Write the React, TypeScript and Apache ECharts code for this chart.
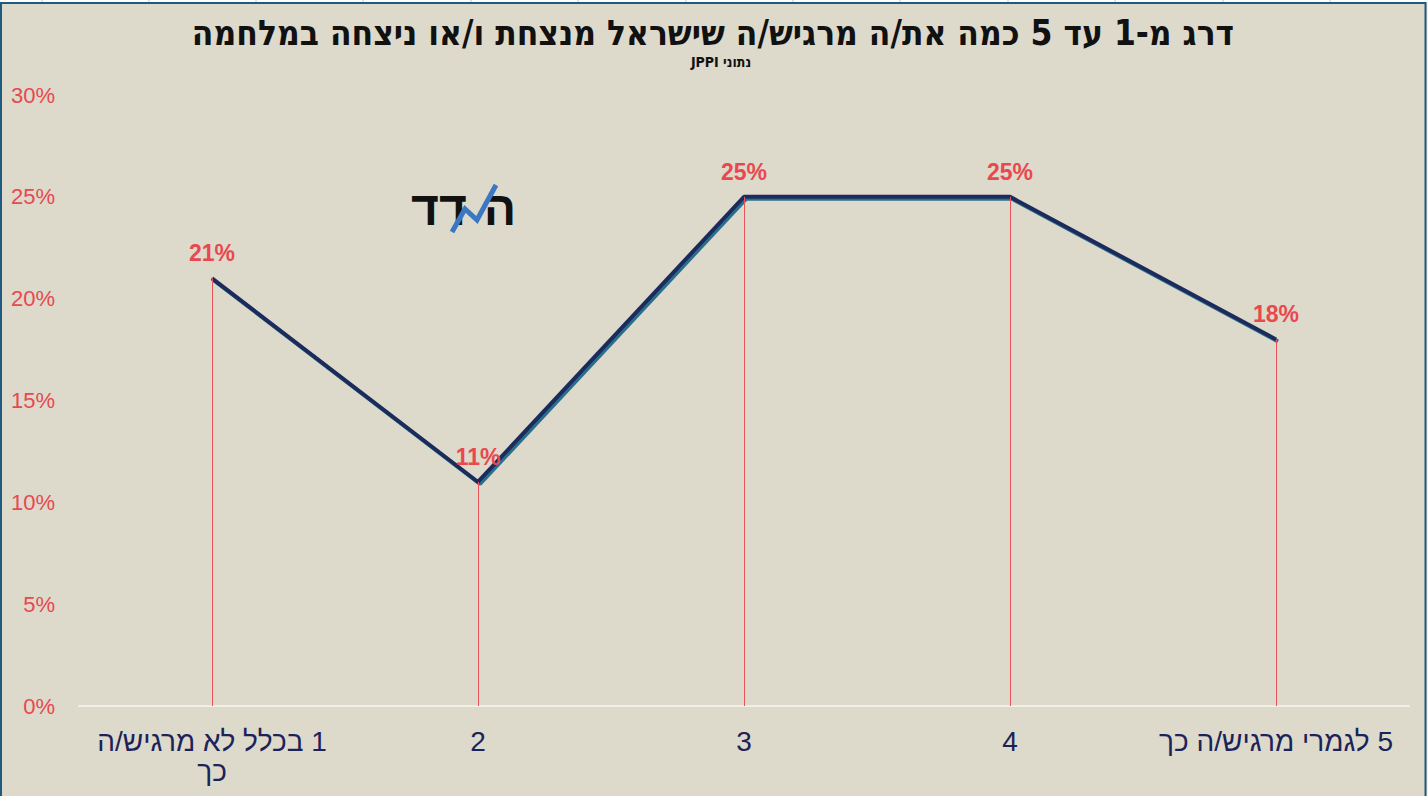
import React, { useEffect, useRef } from "react";
import * as echarts from "echarts";

const RLM = "\u200F";
const categories = [RLM + "1 בכלל לא מרגיש/ה\nכך", "2", "3", "4", RLM + "5 לגמרי מרגיש/ה כך"];
const values = [21, 11, 25, 25, 18];
const yTicks = { min: 0, max: 30, interval: 5 };
const titleText = "דרג מ-1 עד 5 כמה את/ה מרגיש/ה שישראל מנצחת ו/או ניצחה במלחמה";
const subtitleText = "\u202Bנתוני JPPI\u202C";
const sheetLines = [42, 149, 256, 363, 471, 578, 686, 793, 900, 1008, 1115, 1223, 1330];

export default function App() {
  const ref = useRef<HTMLDivElement>(null);
  useEffect(() => {
    document.body.style.margin = "0";
    const chart = echarts.init(ref.current!, null, { renderer: "svg" });
    const graphics: any[] = [
      { type: "rect", shape: { x: 0, y: 0, width: 1428, height: 3 }, style: { fill: "#ffffff" }, silent: true },
      ...sheetLines.map((x) => ({
        type: "line",
        shape: { x1: x, y1: 0, x2: x, y2: 3 },
        style: { stroke: "#c8c8c8", lineWidth: 1 },
        silent: true,
      })),
      { type: "rect", shape: { x: 1427, y: 0, width: 1, height: 796 }, style: { fill: "#f4f4f4" }, silent: true },
      {
        type: "polyline",
        shape: { points: [[1, 796], [1, 3], [1425.5, 3], [1425.5, 796]] },
        style: { stroke: "#1f5a80", lineWidth: 2, fill: "none" },
        silent: true,
      },
      {
        type: "text",
        x: 713,
        y: 33,
        style: {
          text: titleText,
          fill: "#111111",
          font: "bold 35px 'Liberation Sans Narrow', 'DejaVu Sans Condensed', 'Liberation Sans', sans-serif",
          align: "center",
          verticalAlign: "middle",
        },
      },
      {
        type: "text",
        x: 721,
        y: 62,
        style: {
          text: subtitleText,
          fill: "#111111",
          font: "bold 14px 'Liberation Sans Narrow', 'DejaVu Sans Condensed', sans-serif",
          align: "center",
          verticalAlign: "middle",
        },
      },
      {
        type: "text",
        x: 439,
        y: 208,
        style: {
          text: "דד",
          fill: "#111111",
          font: "bold 48px 'Liberation Sans', Arial, sans-serif",
          align: "center",
          verticalAlign: "middle",
        },
      },
      {
        type: "text",
        x: 500,
        y: 208,
        style: {
          text: "ה",
          fill: "#111111",
          font: "bold 48px 'Liberation Sans', Arial, sans-serif",
          align: "center",
          verticalAlign: "middle",
        },
      },
      {
        type: "polyline",
        shape: { points: [[452, 232], [465, 209], [477, 220], [496, 185]] },
        style: { stroke: "#3a78c4", lineWidth: 5, fill: "none", lineJoin: "miter" },
      },
    ];
    chart.setOption({
      animation: false,
      backgroundColor: "#ddd9cb",
      grid: { left: 79, right: 19, top: 95, bottom: 90, containLabel: false },
      graphic: graphics,
      xAxis: {
        type: "category",
        data: categories,
        boundaryGap: true,
        axisLine: { show: true, lineStyle: { color: "#f2efe8", width: 2 } },
        axisTick: { show: false },
        axisLabel: {
          color: "#1b2359",
          fontSize: 28,
          fontFamily: "'Liberation Sans', Arial, sans-serif",
          margin: 20,
          lineHeight: 30,
          interval: 0,
        },
        splitLine: { show: false },
      },
      yAxis: {
        type: "value",
        min: yTicks.min,
        max: yTicks.max,
        interval: yTicks.interval,
        axisLine: { show: false },
        axisTick: { show: false },
        splitLine: { show: false },
        axisLabel: {
          formatter: "{value}%",
          color: "#e8484e",
          fontSize: 22,
          fontFamily: "'Liberation Sans', Arial, sans-serif",
          margin: 24,
        },
      },
      series: [
        {
          type: "line",
          data: values,
          symbol: "circle",
          symbolSize: 1,
          showSymbol: true,
          itemStyle: { color: "#1b2a5c" },
          lineStyle: {
            color: "#1b2a5c",
            width: 4,
            shadowColor: "#2c6e8e",
            shadowOffsetX: 2,
            shadowOffsetY: 2,
            shadowBlur: 0,
          },
          label: {
            show: true,
            position: "top",
            distance: 13,
            formatter: "{c}%",
            color: "#e8484e",
            fontSize: 23,
            fontWeight: "bold",
            fontFamily: "'Liberation Sans', Arial, sans-serif",
          },
          markLine: {
            silent: true,
            symbol: "none",
            label: { show: false },
            lineStyle: { color: "#e8545a", width: 1, type: "solid" },
            data: values.map((v, i) => [
              { coord: [i, 0] },
              { coord: [i, v] },
            ]),
          },
          z: 3,
        },
      ],
    });
    return () => chart.dispose();
  }, []);
  return <div ref={ref} style={{ position: "absolute", left: 0, top: 0, width: 1428, height: 796 }} />;
}
